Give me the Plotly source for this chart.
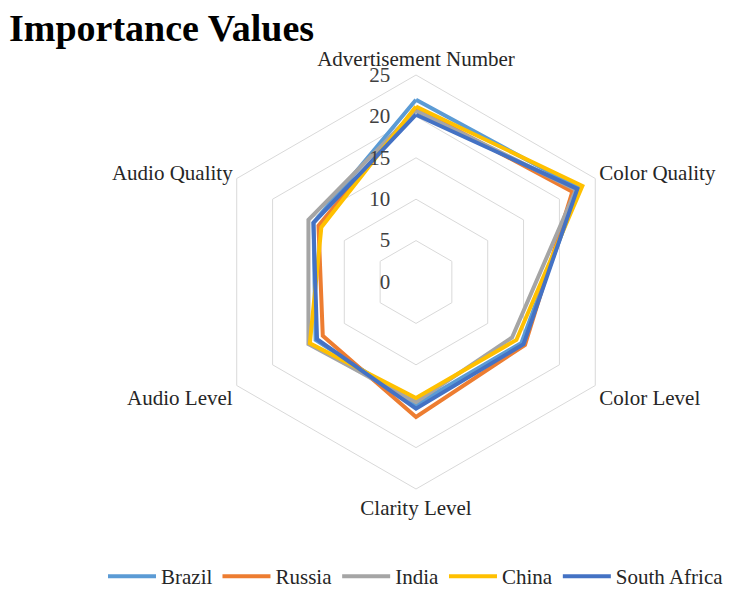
import plotly.graph_objects as go

categories = ["Advertisement Number", "Color Quality", "Color Level",
              "Clarity Level", "Audio Level", "Audio Quality"]
series_names = ["Brazil", "Russia", "India", "China", "South Africa"]
brazil = [22.0, 22.7, 14.7, 14.8, 14.0, 14.3]
russia = [21.0, 21.8, 15.2, 16.3, 13.0, 13.6]
india = [20.7, 22.3, 13.4, 14.5, 15.0, 15.0]
china = [21.2, 23.2, 14.0, 14.0, 14.8, 13.2]
south_africa = [20.2, 22.5, 15.0, 15.3, 13.8, 14.3]
radial_ticks = [0, 5, 10, 15, 20, 25]

values = [brazil, russia, india, china, south_africa]
colors = ["#5B9BD5", "#ED7D31", "#A5A5A5", "#FFC000", "#4472C4"]

W, H = 731, 589
cx, cy, R = 416, 282, 207

fig = go.Figure()
for name, vals, col in zip(series_names, values, colors):
    fig.add_trace(go.Scatterpolar(
        r=vals + vals[:1],
        theta=categories + categories[:1],
        mode="lines",
        name=name,
        line=dict(color=col, width=4),
    ))

font_family = "Liberation Serif"
fig.update_layout(
    width=W, height=H,
    margin=dict(l=0, r=0, t=0, b=0, autoexpand=False),
    paper_bgcolor="white",
    plot_bgcolor="white",
    title=dict(text="<b>Importance Values</b>", x=9 / W, xanchor="left",
               y=1 - 28 / H, yanchor="middle",
               font=dict(family=font_family, size=38, color="black")),
    polar=dict(
        domain=dict(x=[(cx - R) / W, (cx + R) / W],
                    y=[(H - cy - R) / H, (H - cy + R) / H]),
        bgcolor="white",
        gridshape="linear",
        radialaxis=dict(range=[0, 25], tickvals=radial_ticks, angle=90,
                        side="counterclockwise", tickangle=90,
                        showline=False, ticks="outside", ticklen=18,
                        tickcolor="rgba(0,0,0,0)", gridcolor="#D9D9D9",
                        gridwidth=1,
                        tickfont=dict(family=font_family, size=21, color="#404040")),
        angularaxis=dict(rotation=90, direction="clockwise",
                         showgrid=False, showline=True, linecolor="#D9D9D9",
                         linewidth=1, ticks="",
                         tickfont=dict(family=font_family, size=21, color="#262626")),
    ),
    legend=dict(orientation="h", x=103 / W, xanchor="left", y=-8 / H, yanchor="bottom",
                font=dict(family=font_family, size=21, color="#262626"),
                itemwidth=48, tracegroupgap=0),
    showlegend=True,
)

fig.write_html("out.html", config={"displayModeBar": False},
               post_script="document.body.style.margin='0';")
